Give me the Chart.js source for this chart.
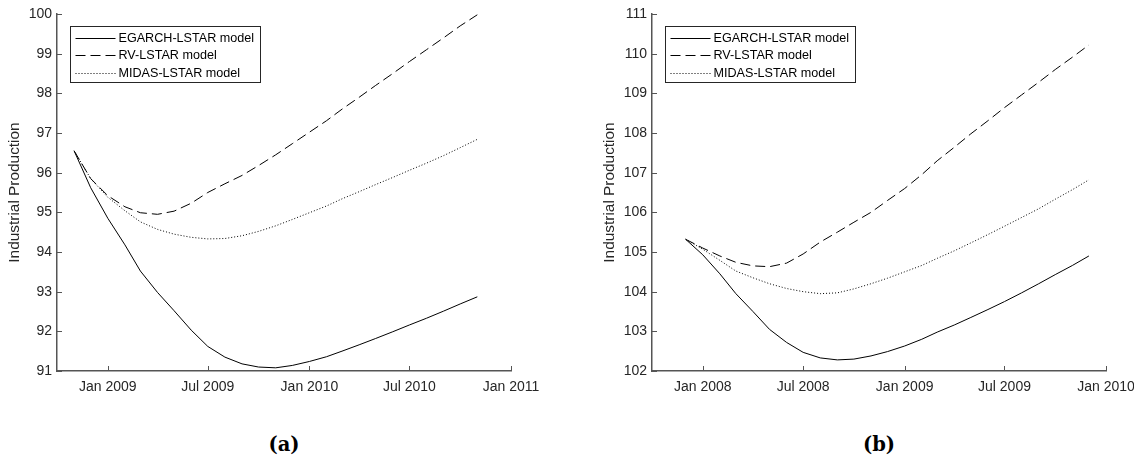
<!DOCTYPE html>
<html>
<head>
<meta charset="utf-8">
<title>Industrial Production forecasts</title>
<script src="https://cdn.jsdelivr.net/npm/chart.js@4.4.1/dist/chart.umd.min.js"></script>
<style>
  html, body { margin: 0; padding: 0; background: #fff; overflow: hidden; width: 1134px; height: 463px; }
  .panel { position: absolute; top: 0; }
  canvas { display: block; }
  .cap { position: absolute; top: 433px; width: 120px; margin-left: -60px; text-align: center;
         font: bold 19.5px "DejaVu Serif", serif; color: #000; line-height: 24px; }
</style>
</head>
<body>
<div class="panel" style="left:0"><canvas id="panelA" width="567" height="410"></canvas></div>
<div class="panel" style="left:595px"><canvas id="panelB" width="567" height="410"></canvas></div>
<div class="cap" style="left:284px">(a)</div>
<div class="cap" style="left:879px">(b)</div>
<script>
// ---------- data ----------
const seriesNames = ['EGARCH-LSTAR model', 'RV-LSTAR model', 'MIDAS-LSTAR model'];
const yTitle = 'Industrial Production';

// panel (a)
const monthsA = ['2008-11', '2008-12', '2009-01', '2009-02', '2009-03', '2009-04', '2009-05',
  '2009-06', '2009-07', '2009-08', '2009-09', '2009-10', '2009-11', '2009-12', '2010-01',
  '2010-02', '2010-03', '2010-04', '2010-05', '2010-06', '2010-07', '2010-08', '2010-09',
  '2010-10', '2010-11'];
const egarchA = [96.55, 95.62, 94.85, 94.18, 93.52, 92.98, 92.52, 92.03, 91.62, 91.35, 91.18,
  91.10, 91.08, 91.14, 91.24, 91.36, 91.50, 91.66, 91.82, 91.99, 92.16, 92.33, 92.51, 92.69, 92.87];
const rvA = [96.55, 95.85, 95.42, 95.14, 94.99, 94.95, 95.03, 95.23, 95.50, 95.72, 95.93,
  96.18, 96.45, 96.73, 97.02, 97.31, 97.60, 97.90, 98.20, 98.50, 98.80, 99.10, 99.40, 99.70, 99.98];
const midasA = [96.55, 95.85, 95.38, 95.04, 94.76, 94.57, 94.45, 94.37, 94.33, 94.34, 94.41,
  94.52, 94.66, 94.82, 94.99, 95.16, 95.34, 95.52, 95.70, 95.88, 96.06, 96.24, 96.43, 96.63, 96.84];
const xTickLabelsA = ['Jan 2009', 'Jul 2009', 'Jan 2010', 'Jul 2010', 'Jan 2011'];
const xRangeA = ['2008-10', '2011-01'];
const yRangeA = [91, 100];

// panel (b)
const monthsB = ['2007-12', '2008-01', '2008-02', '2008-03', '2008-04', '2008-05', '2008-06',
  '2008-07', '2008-08', '2008-09', '2008-10', '2008-11', '2008-12', '2009-01', '2009-02',
  '2009-03', '2009-04', '2009-05', '2009-06', '2009-07', '2009-08', '2009-09', '2009-10',
  '2009-11', '2009-12'];
const egarchB = [105.32, 104.93, 104.45, 103.95, 103.50, 103.05, 102.72, 102.47, 102.33, 102.28,
  102.30, 102.38, 102.49, 102.63, 102.80, 102.98, 103.16, 103.35, 103.55, 103.75, 103.97, 104.20,
  104.43, 104.66, 104.90];
const rvB = [105.32, 105.10, 104.90, 104.74, 104.65, 104.63, 104.72, 104.95, 105.25, 105.50,
  105.75, 106.00, 106.30, 106.60, 106.95, 107.30, 107.64, 107.98, 108.31, 108.64, 108.96, 109.28,
  109.60, 109.91, 110.22];
const midasB = [105.32, 105.07, 104.79, 104.52, 104.35, 104.20, 104.08, 104.00, 103.95, 103.97,
  104.07, 104.20, 104.34, 104.50, 104.66, 104.84, 105.03, 105.23, 105.44, 105.65, 105.87, 106.09,
  106.33, 106.57, 106.82];
const xTickLabelsB = ['Jan 2008', 'Jul 2008', 'Jan 2009', 'Jul 2009', 'Jan 2010'];
const xRangeB = ['2007-10', '2010-01'];
const yRangeB = [102, 111];

// ---------- helpers ----------
const MONTH_ABBR = ['Jan', 'Feb', 'Mar', 'Apr', 'May', 'Jun', 'Jul', 'Aug', 'Sep', 'Oct', 'Nov', 'Dec'];
const DAY_MS = 86400000;
function dayOfMonthKey(key) {            // 'YYYY-MM' -> days since epoch
  const [y, m] = key.split('-').map(Number);
  return Date.UTC(y, m - 1, 1) / DAY_MS;
}
function dayOfTickLabel(label) {         // 'Jan 2009' -> days since epoch
  const [mon, y] = label.split(' ');
  return Date.UTC(Number(y), MONTH_ABBR.indexOf(mon), 1) / DAY_MS;
}

const AXIS_COLOR = '#555555';
const TEXT_COLOR = '#262626';
const FONT_FAMILY = '"Liberation Sans", Arial, Helvetica, sans-serif';
Chart.defaults.font.family = FONT_FAMILY;

const lineStyles = [
  { borderDash: [] },
  { borderDash: [10, 5] },
  { borderDash: [1, 2] }
];

// short tick marks pointing into the plot area
const inwardTicks = {
  id: 'inwardTicks',
  afterDraw(chart) {
    const { ctx, chartArea: a, scales: { x, y } } = chart;
    ctx.save();
    ctx.strokeStyle = AXIS_COLOR;
    ctx.lineWidth = 1;
    ctx.beginPath();
    x.ticks.forEach(t => {
      const px = Math.round(x.getPixelForValue(t.value)) + 0.5;
      ctx.moveTo(px, a.bottom);
      ctx.lineTo(px, a.bottom - 5);
    });
    y.ticks.forEach(t => {
      const py = Math.round(y.getPixelForValue(t.value)) + 0.5;
      ctx.moveTo(a.left, py);
      ctx.lineTo(a.left + 5, py);
    });
    ctx.stroke();
    ctx.restore();
  }
};

// boxed legend in the upper-left corner of the plot area
const boxLegend = {
  id: 'boxLegend',
  afterDatasetsDraw(chart) {
    const { ctx, chartArea: a } = chart;
    const x0 = Math.round(a.left + 13) + 0.5, y0 = Math.round(a.top + 12) + 0.5;
    const w = 190, h = 56;
    ctx.save();
    ctx.fillStyle = '#fff';
    ctx.fillRect(x0, y0, w, h);
    ctx.strokeStyle = TEXT_COLOR;
    ctx.lineWidth = 1;
    ctx.setLineDash([]);
    ctx.strokeRect(x0, y0, w, h);
    ctx.font = '12.6px ' + FONT_FAMILY;
    ctx.textBaseline = 'middle';
    ctx.textAlign = 'left';
    chart.data.datasets.forEach((ds, i) => {
      const yy = Math.round(y0 + 11 + i * 17.5) + 0.5;
      ctx.strokeStyle = ds.borderColor;
      ctx.lineWidth = ds.borderWidth;
      ctx.setLineDash(ds.borderDash || []);
      ctx.beginPath();
      ctx.moveTo(x0 + 5, yy);
      ctx.lineTo(x0 + 45, yy);
      ctx.stroke();
      ctx.setLineDash([]);
      ctx.fillStyle = '#000';
      ctx.fillText(ds.label, x0 + 48, yy);
    });
    ctx.restore();
  }
};

function makePanel(canvasId, months, seriesList, tickLabels, xRange, yRange) {
  const xs = months.map(dayOfMonthKey);
  const tickValues = tickLabels.map(dayOfTickLabel);
  const datasets = seriesList.map((vals, i) => ({
    label: seriesNames[i],
    data: vals.map((v, j) => ({ x: xs[j], y: v })),
    borderColor: '#000',
    borderWidth: 1,
    borderDash: lineStyles[i].borderDash,
    borderCapStyle: 'butt',
    pointRadius: 0,
    tension: 0,
    fill: false
  }));

  return new Chart(document.getElementById(canvasId), {
    type: 'line',
    data: { datasets },
    options: {
      responsive: false,
      devicePixelRatio: 1,
      animation: false,
      layout: { padding: { top: 14, right: 56, left: 0, bottom: 0 } },
      plugins: { legend: { display: false }, tooltip: { enabled: false } },
      scales: {
        x: {
          type: 'linear',
          min: dayOfMonthKey(xRange[0]),
          max: dayOfMonthKey(xRange[1]),
          grid: { display: false, drawTicks: false },
          border: { display: true, color: AXIS_COLOR, width: 1.5 },
          afterBuildTicks: s => { s.ticks = tickValues.map(v => ({ value: v })); },
          afterFit: s => { s.height = 39; },
          ticks: {
            autoSkip: false,
            maxRotation: 0,
            padding: 8,
            color: TEXT_COLOR,
            font: { size: 14 },
            callback: (v, i) => tickLabels[i]
          }
        },
        y: {
          min: yRange[0],
          max: yRange[1],
          grid: { display: false, drawTicks: false },
          border: { display: true, color: AXIS_COLOR, width: 1.5 },
          afterFit: s => { s.width = 57; },
          ticks: {
            stepSize: 1,
            padding: 5,
            color: TEXT_COLOR,
            font: { size: 14 }
          },
          title: {
            display: true,
            text: yTitle,
            color: TEXT_COLOR,
            font: { size: 15.4 },
            padding: { top: 6, bottom: 0 }
          }
        }
      }
    },
    plugins: [boxLegend, inwardTicks]
  });
}

makePanel('panelA', monthsA, [egarchA, rvA, midasA], xTickLabelsA, xRangeA, yRangeA);
makePanel('panelB', monthsB, [egarchB, rvB, midasB], xTickLabelsB, xRangeB, yRangeB);
</script>
</body>
</html>
